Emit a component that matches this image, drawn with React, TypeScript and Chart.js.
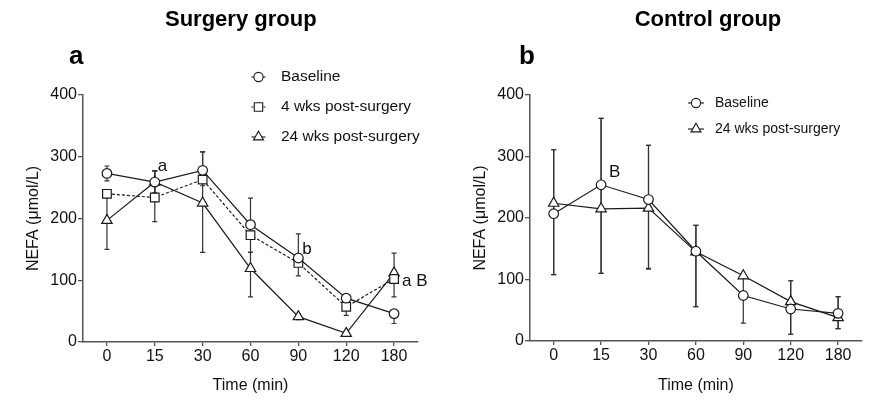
import React, { useEffect, useRef } from 'react';
import { Chart, registerables } from 'chart.js';

Chart.register(...registerables);

// ---------- data ----------
const timeLabels = ['0', '15', '30', '60', '90', '120', '180'];

// Surgery group (panel a)
const surgBaseline = [273, 259, 278, 190, 136, 71, 46];
const surgBaselineHi = [12, 18, 30, 43, 39, 5, 5];
const surgBaselineLo = [12, 18, 15, 17, 8, 14, 16];
const surg4wk = [240, 234, 263, 173, 128, 57, 102];
const surg4wkHi = [5, 43, 10, 17, 8, 14, 10];
const surg4wkLo = [5, 39, 10, 28, 21, 14, 29];
const surg24wk = [197, 259, 225, 119, 41, 14, 112];
const surg24wkHi = [47, 18, 83, 26, 5, 3, 32];
const surg24wkLo = [47, 18, 80, 46, 5, 3, 10];

// Control group (panel b)
const ctrlBaseline = [207, 254, 230, 146, 74, 52, 45];
const ctrlBaselineHi = [104, 108, 88, 42, 32, 46, 27];
const ctrlBaselineLo = [99, 144, 112, 90, 45, 41, 25];
const ctrl24wk = [224, 215, 216, 145, 106, 64, 38];
const ctrl24wkHi = [87, 147, 102, 43, 4, 34, 34];
const ctrl24wkLo = [116, 105, 99, 89, 4, 53, 18];

const seriesNames = ['Baseline', '4 wks post-surgery', '24 wks post-surgery'];
const surgNotes = [
  { series: 0, time: '15', text: 'a' },
  { series: 0, time: '90', text: 'b' },
  { series: 1, time: '180', text: 'a B' },
];
const ctrlNotes = [{ series: 0, time: '15', text: 'B' }];

// ---------- styling ----------
const FONT = '"Liberation Sans", Arial, Helvetica, sans-serif';
const LINE = '#1a1a1a';
const AXIS = '#555';

type Marker = 'circle' | 'rect' | 'triangle';

function drawMarker(ctx: CanvasRenderingContext2D, style: Marker, x: number, y: number) {
  ctx.beginPath();
  if (style === 'circle') {
    ctx.arc(x, y, 4.6, 0, Math.PI * 2);
  } else if (style === 'rect') {
    ctx.rect(x - 4.2, y - 4.2, 8.4, 8.4);
  } else {
    const r = 5.8;
    ctx.moveTo(x, y - r);
    ctx.lineTo(x + r * 0.866, y + r * 0.5);
    ctx.lineTo(x - r * 0.866, y + r * 0.5);
    ctx.closePath();
  }
  ctx.fillStyle = '#fff';
  ctx.fill();
  ctx.stroke();
}

const errorBarPlugin = {
  id: 'errBars',
  beforeDatasetsDraw(chart: any) {
    const ctx = chart.ctx;
    const ys = chart.scales.y;
    chart.data.datasets.forEach((ds: any, i: number) => {
      const meta = chart.getDatasetMeta(i);
      if (!ds.errHi) return;
      ctx.save();
      ctx.strokeStyle = '#333';
      ctx.lineWidth = 1.2;
      meta.data.forEach((pt: any, j: number) => {
        const v = ds.data[j];
        const top = ys.getPixelForValue(v + ds.errHi[j]);
        const bot = ys.getPixelForValue(v - ds.errLo[j]);
        const x = pt.x;
        ctx.beginPath();
        ctx.moveTo(x, top);
        ctx.lineTo(x, bot);
        ctx.moveTo(x - 2.5, top);
        ctx.lineTo(x + 2.5, top);
        ctx.moveTo(x - 2.5, bot);
        ctx.lineTo(x + 2.5, bot);
        ctx.stroke();
      });
      ctx.restore();
    });
  },
};

type LegendCfg = { x0: number; x1: number; textX: number; ys: number[]; font: number };
type NoteCfg = { series: number; time: string; text: string; dx: number; dy: number };

function makeDecorPlugin(legend: LegendCfg, notes: NoteCfg[]) {
  return {
    id: 'decor',
    afterDraw(chart: any) {
      const ctx: CanvasRenderingContext2D = chart.ctx;
      ctx.save();
      // legend
      chart.data.datasets.forEach((ds: any, i: number) => {
        const y = legend.ys[i];
        ctx.strokeStyle = LINE;
        ctx.lineWidth = 1.1;
        ctx.setLineDash(ds.borderDash && ds.borderDash.length ? [2, 2] : []);
        ctx.beginPath();
        ctx.moveTo(legend.x0, y);
        ctx.lineTo(legend.x1, y);
        ctx.stroke();
        ctx.setLineDash([]);
        drawMarker(ctx, ds.pointStyle, (legend.x0 + legend.x1) / 2, y);
        ctx.fillStyle = '#111';
        ctx.font = `${legend.font}px ${FONT}`;
        ctx.textAlign = 'left';
        ctx.textBaseline = 'middle';
        ctx.fillText(ds.label, legend.textX, y);
      });
      // significance notes
      ctx.font = `17px ${FONT}`;
      ctx.fillStyle = '#111';
      ctx.textAlign = 'left';
      ctx.textBaseline = 'middle';
      notes.forEach((n) => {
        const idx = timeLabels.indexOf(n.time);
        const pt = chart.getDatasetMeta(n.series).data[idx];
        if (pt) ctx.fillText(n.text, pt.x + n.dx, pt.y + n.dy);
      });
      ctx.restore();
    },
  };
}

function makeDataset(label: string, data: number[], hi: number[], lo: number[], style: Marker, dashed: boolean) {
  const radius = style === 'circle' ? 4.8 : style === 'rect' ? 6.1 : 6;
  return {
    label,
    data,
    errHi: hi,
    errLo: lo,
    pointStyle: style,
    pointRadius: radius,
    pointHoverRadius: radius,
    pointBackgroundColor: '#fff',
    pointBorderColor: LINE,
    pointBorderWidth: 1.2,
    borderColor: LINE,
    borderWidth: 1.2,
    borderDash: dashed ? [3, 2] : [],
    fill: false,
    tension: 0,
  };
}

type PanelProps = {
  width: number;
  padRight: number;
  yAxisWidth: number;
  xAxisHeight: number;
  yTitlePad: number;
  datasets: any[];
  legend: LegendCfg;
  notes: NoteCfg[];
};

function Panel(props: PanelProps) {
  const ref = useRef<HTMLCanvasElement>(null);
  useEffect(() => {
    const canvas = ref.current!;
    const chart = new Chart(canvas, {
      type: 'line',
      data: { labels: timeLabels, datasets: props.datasets },
      options: {
        responsive: false,
        animation: false,
        events: [],
        layout: { padding: { left: 0, right: props.padRight, top: 95, bottom: 0 } },
        plugins: {
          legend: { display: false },
          tooltip: { enabled: false },
          title: { display: false },
        },
        scales: {
          x: {
            type: 'category',
            offset: true,
            grid: {
              display: true,
              drawOnChartArea: false,
              drawTicks: true,
              tickLength: 4,
              offset: false,
              color: AXIS,
              lineWidth: 1.3,
            },
            border: { display: true, color: AXIS, width: 1.5 },
            ticks: { color: '#111', font: { family: FONT, size: 16 }, padding: 1, maxRotation: 0 },
            title: {
              display: true,
              text: 'Time (min)',
              color: '#111',
              font: { family: FONT, size: 16 },
              padding: { top: 0, bottom: 6.4 },
            },
            afterFit: (s: any) => {
              s.height = props.xAxisHeight;
            },
          },
          y: {
            min: 0,
            max: 400,
            ticks: { stepSize: 100, color: '#111', font: { family: FONT, size: 16 }, padding: 1 },
            grid: {
              display: true,
              drawOnChartArea: false,
              drawTicks: true,
              tickLength: 5,
              color: AXIS,
              lineWidth: 1.3,
            },
            border: { display: true, color: AXIS, width: 1.5 },
            title: {
              display: true,
              text: 'NEFA (\u03BCmol/L)',
              color: '#111',
              font: { family: FONT, size: 16 },
              padding: { top: props.yTitlePad, bottom: 0 },
            },
            afterFit: (s: any) => {
              s.width = props.yAxisWidth;
            },
          },
        },
      } as any,
      plugins: [errorBarPlugin, makeDecorPlugin(props.legend, props.notes)] as any,
    });
    return () => chart.destroy();
  }, []);
  return (
    <canvas
      ref={ref}
      width={props.width}
      height={402}
      style={{ width: props.width, height: 402, display: 'block' }}
    />
  );
}

const titleStyle: React.CSSProperties = {
  position: 'absolute',
  top: 8,
  width: 400,
  textAlign: 'center',
  font: `bold 22px ${FONT}`,
  lineHeight: '22px',
  color: '#000',
  whiteSpace: 'nowrap',
};
const letterStyle: React.CSSProperties = {
  position: 'absolute',
  top: 42,
  font: `bold 26px ${FONT}`,
  lineHeight: '26px',
  color: '#000',
};

export default function App() {
  useEffect(() => {
    document.body.style.margin = '0';
  }, []);

  const surgDatasets = [
    makeDataset(seriesNames[0], surgBaseline, surgBaselineHi, surgBaselineLo, 'circle', false),
    makeDataset(seriesNames[1], surg4wk, surg4wkHi, surg4wkLo, 'rect', true),
    makeDataset(seriesNames[2], surg24wk, surg24wkHi, surg24wkLo, 'triangle', false),
  ];
  const ctrlDatasets = [
    makeDataset(seriesNames[0], ctrlBaseline, ctrlBaselineHi, ctrlBaselineLo, 'circle', false),
    makeDataset(seriesNames[2], ctrl24wk, ctrl24wkHi, ctrl24wkLo, 'triangle', false),
  ];

  const surgNoteOffsets: Record<string, [number, number]> = { a: [3, -16], b: [4, -9], 'a B': [8, 2] };
  const ctrlNoteOffsets: Record<string, [number, number]> = { B: [8, -12] };

  return (
    <div style={{ position: 'relative', width: 869, height: 402, background: '#fff', overflow: 'hidden' }}>
      <div style={{ position: 'absolute', left: 0, top: 0 }}>
        <Panel
          width={434}
          padRight={16}
          yAxisWidth={83}
          xAxisHeight={60}
          yTitlePad={24}
          datasets={surgDatasets}
          legend={{ x0: 251.5, x1: 265.5, textX: 281, ys: [77, 107, 137], font: 15.5 }}
          notes={surgNotes.map((n) => ({ ...n, dx: surgNoteOffsets[n.text][0], dy: surgNoteOffsets[n.text][1] }))}
        />
      </div>
      <div style={{ position: 'absolute', left: 434, top: 0 }}>
        <Panel
          width={435}
          padRight={6}
          yAxisWidth={96}
          xAxisHeight={61}
          yTitlePad={37}
          datasets={ctrlDatasets}
          legend={{ x0: 254, x1: 270, textX: 281, ys: [103, 129], font: 14 }}
          notes={ctrlNotes.map((n) => ({ ...n, dx: ctrlNoteOffsets[n.text][0], dy: ctrlNoteOffsets[n.text][1] }))}
        />
      </div>
      <div style={{ ...titleStyle, left: 40.8 }}>Surgery group</div>
      <div style={{ ...titleStyle, left: 508 }}>Control group</div>
      <div style={{ ...letterStyle, left: 69 }}>a</div>
      <div style={{ ...letterStyle, left: 519 }}>b</div>
    </div>
  );
}
